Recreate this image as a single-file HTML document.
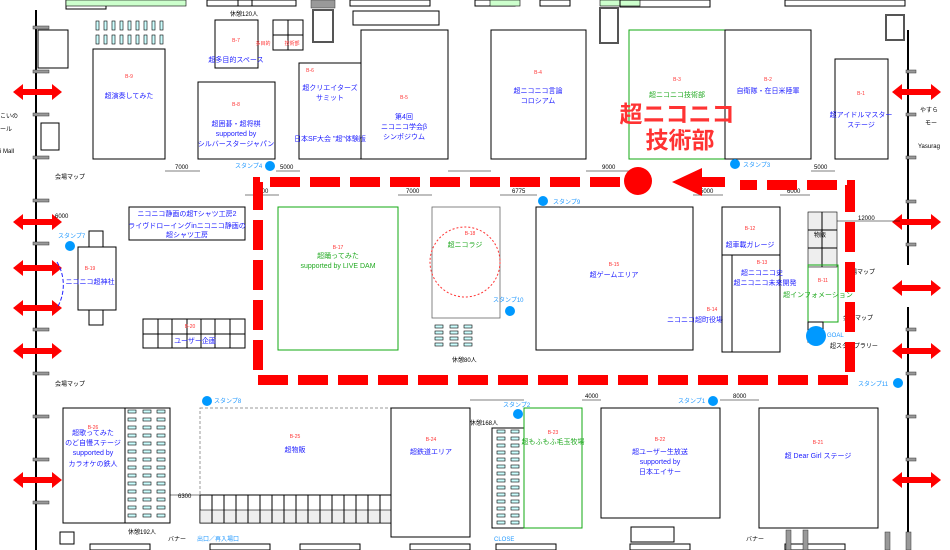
<!DOCTYPE html>
<html><head><meta charset="utf-8"><style>
body{margin:0;background:#fff}
svg{display:block;font-family:"Liberation Sans","Noto Sans CJK JP",sans-serif}
.b{fill:none;stroke:#000;stroke-width:1}
.g{fill:none;stroke:#1a1;stroke-width:1}
.t{fill:#22f;font-size:7px;text-anchor:middle}
.tg{fill:#2a2;font-size:7px;text-anchor:middle}
.r{fill:#f33;font-size:5px;text-anchor:middle}
.n{fill:#000;font-size:4px;text-anchor:middle}
.s{fill:#29f;font-size:6px}
.k{fill:#000;font-size:6px}
.d{stroke:#f00;stroke-width:10;stroke-dasharray:30 10;fill:none}
.w{fill:#999;stroke:#333;stroke-width:.5}
.seat{fill:#cff;stroke:#000;stroke-width:.6}
</style></head><body>
<svg width="950" height="550" viewBox="0 0 950 550">
<defs>
<g id="da"><polygon points="0,0 10,-8 10,-3 39,-3 39,-8 49,0 39,8 39,3 10,3 10,8" fill="#f00"/></g>
<g id="se"><rect width="8" height="3" class="seat"/></g>
</defs>
<!-- top structures -->
<rect x="66" y="0" width="40" height="9" class="b"/>
<rect x="66" y="0" width="120" height="6" fill="#cfc" stroke="#000" stroke-width=".6"/>
<rect x="207" y="0" width="45" height="6" class="b"/>
<rect x="238" y="0" width="58" height="6" class="b"/>
<rect x="311" y="0" width="24" height="8" class="w"/>
<rect x="350" y="0" width="80" height="6" class="b"/>
<rect x="475" y="0" width="40" height="6" class="b"/>
<rect x="490" y="0" width="30" height="6" fill="#cfc" stroke="#000" stroke-width=".6"/>
<rect x="540" y="0" width="30" height="6" class="b"/>
<rect x="600" y="0" width="40" height="6" fill="#cfc" stroke="#000" stroke-width=".6"/>
<rect x="620" y="0" width="90" height="7" class="b"/>
<rect x="785" y="0" width="120" height="6" class="b"/>
<rect x="600" y="8" width="18" height="35" fill="#fff" stroke="#555" stroke-width="2"/>
<rect x="313" y="10" width="20" height="32" fill="#fff" stroke="#555" stroke-width="2"/>
<rect x="886" y="15" width="18" height="25" fill="#fff" stroke="#555" stroke-width="2"/>
<rect x="353" y="11" width="86" height="14" class="b"/>
<rect x="273" y="20" width="30" height="30" class="b"/>
<path d="M288 20V50M273 35H303" class="b"/>
<text x="230" y="16" class="k" font-size="7">休憩120人</text>
<g fill="#cff" stroke="#000" stroke-width=".6">
<rect x="96" y="21" width="3" height="9"/><rect x="104" y="21" width="3" height="9"/><rect x="112" y="21" width="3" height="9"/><rect x="120" y="21" width="3" height="9"/><rect x="128" y="21" width="3" height="9"/><rect x="136" y="21" width="3" height="9"/><rect x="144" y="21" width="3" height="9"/><rect x="152" y="21" width="3" height="9"/><rect x="160" y="21" width="3" height="9"/>
<rect x="96" y="35" width="3" height="9"/><rect x="104" y="35" width="3" height="9"/><rect x="112" y="35" width="3" height="9"/><rect x="120" y="35" width="3" height="9"/><rect x="128" y="35" width="3" height="9"/><rect x="136" y="35" width="3" height="9"/><rect x="144" y="35" width="3" height="9"/><rect x="152" y="35" width="3" height="9"/><rect x="160" y="35" width="3" height="9"/>
</g>
<!-- walls -->
<path d="M36 10V550M908 30V265M908 307V550" stroke="#000" stroke-width="2"/>
<rect x="38" y="30" width="30" height="38" class="b"/>
<rect x="41" y="123" width="18" height="27" class="b"/>
<g class="w"><rect x="33" y="26" width="16" height="3"/><rect x="33" y="70" width="16" height="3"/><rect x="33" y="113" width="16" height="3"/><rect x="33" y="156" width="16" height="3"/><rect x="33" y="199" width="16" height="3"/><rect x="33" y="242" width="16" height="3"/><rect x="33" y="328" width="16" height="3"/><rect x="33" y="372" width="16" height="3"/><rect x="33" y="415" width="16" height="3"/><rect x="33" y="458" width="16" height="3"/><rect x="33" y="501" width="16" height="3"/>
<rect x="906" y="70" width="10" height="3"/><rect x="906" y="113" width="10" height="3"/><rect x="906" y="156" width="10" height="3"/><rect x="906" y="200" width="10" height="3"/><rect x="906" y="243" width="10" height="3"/><rect x="906" y="328" width="10" height="3"/><rect x="906" y="372" width="10" height="3"/><rect x="906" y="415" width="10" height="3"/><rect x="906" y="458" width="10" height="3"/></g>
<text x="0" y="118" class="k" font-size="8">こいの</text>
<text x="0" y="131" class="k" font-size="8">ール</text>
<text x="0" y="153" class="k" font-size="8">i Mall</text>
<text x="920" y="112" class="k" font-size="8">やすら</text>
<text x="925" y="125" class="k" font-size="8">モー</text>
<text x="918" y="148" class="k" font-size="8">Yasurag</text>
<text x="55" y="179" class="k">会場マップ</text>
<text x="55" y="386" class="k">会場マップ</text>
<!-- red side arrows -->
<use href="#da" x="13" y="92"/><use href="#da" x="13" y="222"/><use href="#da" x="13" y="268"/><use href="#da" x="13" y="308"/><use href="#da" x="13" y="351"/><use href="#da" x="13" y="480"/>
<use href="#da" x="892" y="92"/><use href="#da" x="892" y="222"/><use href="#da" x="892" y="288"/><use href="#da" x="892" y="351"/><use href="#da" x="892" y="480"/>
<!-- top booths -->
<rect x="93" y="49" width="72" height="110" class="b"/><text x="129" y="78" class="r">B-9</text><text x="129" y="98" class="t">超演奏してみた</text>
<rect x="215" y="20" width="43" height="48" class="b"/><text x="236" y="42" class="r">B-7</text><text x="236" y="62" class="t">超多目的スペース</text>
<text x="263" y="45" class="r" font-size="6" text-anchor="start">多目的</text><text x="292" y="45" class="r" font-size="6" text-anchor="start">技術部</text>
<rect x="198" y="82" width="77" height="77" class="b"/><text x="236" y="106" class="r">B-8</text><text x="236" y="126" class="t">超囲碁・超将棋</text><text x="236" y="136" class="t">supported by</text><text x="236" y="146" class="t">シルバースタージャパン</text>
<rect x="299" y="63" width="62" height="96" class="b"/><text x="310" y="72" class="r">B-6</text><text x="330" y="90" class="t">超クリエイターズ</text><text x="330" y="100" class="t">サミット</text><text x="330" y="141" class="t">日本SF大会 "超"体験版</text>
<rect x="361" y="30" width="87" height="129" class="b"/><text x="404" y="99" class="r">B-5</text><text x="404" y="119" class="t">第4回</text><text x="404" y="129" class="t">ニコニコ学会β</text><text x="404" y="139" class="t">シンポジウム</text>
<rect x="491" y="30" width="95" height="129" class="b"/><text x="538" y="74" class="r">B-4</text><text x="538" y="93" class="t">超ニコニコ言論</text><text x="538" y="103" class="t">コロシアム</text>
<rect x="629" y="30" width="96" height="129" class="g"/><text x="677" y="81" class="r">B-3</text><text x="677" y="97" class="tg">超ニコニコ技術部</text>
<rect x="725" y="30" width="86" height="129" class="b"/><text x="768" y="81" class="r">B-2</text><text x="768" y="93" class="t">自衛隊・在日米陸軍</text>
<rect x="835" y="59" width="53" height="100" class="b"/><text x="861" y="95" class="r">B-1</text><text x="861" y="117" class="t">超アイドルマスター</text><text x="861" y="127" class="t">ステージ</text>
<text x="677" y="122" fill="#f33" font-size="23" font-weight="bold" text-anchor="middle">超ニコニコ</text>
<text x="680" y="148" fill="#f33" font-size="23" font-weight="bold" text-anchor="middle">技術部</text>
<!-- dims -->
<g stroke="#000" stroke-width=".6"><path d="M165 171H200M276 171H300M448 171H491M586 171H629M811 171H835M245 195H279M398 195H432M500 195H537M693 195H723M780 195H810M810 221H900M170 495H200M470 400H524M582 400H601M720 400H759"/></g>
<text x="175" y="169" class="k" font-size="5">7000</text><text x="280" y="169" class="k" font-size="5">5000</text><text x="602" y="169" class="k" font-size="5">9000</text><text x="814" y="169" class="k" font-size="5">5000</text>
<text x="255" y="193" class="k" font-size="5">7200</text><text x="406" y="193" class="k" font-size="5">7000</text><text x="512" y="193" class="k" font-size="5">6775</text><text x="700" y="193" class="k" font-size="5">5000</text><text x="787" y="193" class="k" font-size="5">6000</text><text x="858" y="220" class="k" font-size="5">12000</text>
<text x="178" y="498" class="k" font-size="5">6300</text><text x="585" y="398" class="k" font-size="5">4000</text><text x="733" y="398" class="k" font-size="5">8000</text><text x="55" y="218" class="k" font-size="5">6000</text>
<!-- middle -->
<rect x="129" y="207" width="116" height="33" class="b"/><text x="187" y="216" class="t">ニコニコ静画の超Tシャツ工房2</text><text x="187" y="228" class="t">ライヴドローイングinニコニコ静画の</text><text x="187" y="237" class="t">超シャツ工房</text>
<rect x="78" y="247" width="38" height="63" class="b"/><rect x="89" y="231" width="14" height="16" class="b"/><rect x="89" y="310" width="14" height="15" class="b"/>
<path d="M57 262A45 45 0 0 1 57 308" stroke="#22f" stroke-dasharray="4 2" fill="none"/>
<text x="90" y="270" class="r">B-19</text><text x="90" y="284" class="t">ニコニコ超神社</text>
<rect x="143" y="319" width="102" height="29" class="b"/><path d="M143 334H245M158 319V348M172 319V348M187 319V348M201 319V348M215 319V348M230 319V348" class="b"/>
<text x="190" y="328" class="r">B-20</text><text x="195" y="343" class="t">ユーザー企画</text>
<rect x="278" y="207" width="120" height="143" class="g"/><text x="338" y="249" class="r">B-17</text><text x="338" y="258" class="tg">超踊ってみた</text><text x="338" y="268" class="tg">supported by LIVE DAM</text>
<rect x="432" y="207" width="68" height="111" fill="none" stroke="#666" stroke-width=".8"/>
<circle cx="465" cy="262" r="35" fill="none" stroke="#f33" stroke-dasharray="2 2"/>
<text x="470" y="235" class="r">B-18</text><text x="465" y="247" class="tg">超ニコラジ</text>
<g><use href="#se" x="435" y="325"/><use href="#se" x="450" y="325"/><use href="#se" x="464" y="325"/><use href="#se" x="435" y="331"/><use href="#se" x="450" y="331"/><use href="#se" x="464" y="331"/><use href="#se" x="435" y="337"/><use href="#se" x="450" y="337"/><use href="#se" x="464" y="337"/><use href="#se" x="435" y="343"/><use href="#se" x="450" y="343"/><use href="#se" x="464" y="343"/></g>
<text x="452" y="362" class="k">休憩80人</text>
<rect x="536" y="207" width="157" height="143" class="b"/><text x="614" y="266" class="r">B-15</text><text x="614" y="277" class="t">超ゲームエリア</text>
<text x="712" y="311" class="r">B-14</text><text x="695" y="322" class="t" text-anchor="start">ニコニコ超町役場</text>
<rect x="722" y="207" width="58" height="145" class="b"/><path d="M722 255H780M732 255V352" class="b"/>
<text x="750" y="230" class="r">B-12</text><text x="750" y="247" class="t">超車載ガレージ</text>
<text x="762" y="264" class="r">B-13</text><text x="762" y="275" class="t">超ニコニコ史</text><text x="765" y="285" class="t">超ニコニコ未来開発</text>
<rect x="808" y="212" width="29" height="55" fill="#eee" stroke="#000" stroke-width=".6"/><path d="M808 230H837M808 248H837M822 212V267" class="b"/>
<text x="814" y="237" class="k" font-size="5">物販</text>
<rect x="808" y="265" width="30" height="57" class="g"/><text x="823" y="282" class="r">B-11</text><text x="818" y="297" class="tg">超インフォメーション</text>
<rect x="808" y="322" width="15" height="20" class="b"/>
<text x="845" y="274" class="k">会場マップ</text><text x="843" y="320" class="k">会場マップ</text>
<text x="827" y="337" class="s" font-size="8">GOAL</text><text x="830" y="348" class="k">超スタンプラリー</text>
<!-- stamps -->
<g fill="#09f"><circle cx="270" cy="166" r="5"/><circle cx="735" cy="164" r="5"/><circle cx="543" cy="201" r="5"/><circle cx="70" cy="246" r="5"/><circle cx="510" cy="311" r="5"/><circle cx="816" cy="336" r="10"/><circle cx="898" cy="383" r="5"/><circle cx="207" cy="401" r="5"/><circle cx="518" cy="414" r="5"/><circle cx="713" cy="401" r="5"/></g>
<text x="235" y="168" class="s">スタンプ4</text><text x="743" y="167" class="s">スタンプ3</text><text x="553" y="204" class="s">スタンプ9</text><text x="58" y="238" class="s">スタンプ7</text><text x="493" y="302" class="s">スタンプ10</text><text x="858" y="386" class="s">スタンプ11</text><text x="214" y="403" class="s">スタンプ8</text><text x="503" y="407" class="s">スタンプ2</text><text x="678" y="403" class="s">スタンプ1</text>
<!-- bottom -->
<rect x="63" y="408" width="107" height="115" class="b"/><path d="M125 408V523" class="b"/>
<g><use href="#se" x="128" y="410"/><use href="#se" x="143" y="410"/><use href="#se" x="157" y="410"/><use href="#se" x="128" y="418"/><use href="#se" x="143" y="418"/><use href="#se" x="157" y="418"/><use href="#se" x="128" y="426"/><use href="#se" x="143" y="426"/><use href="#se" x="157" y="426"/><use href="#se" x="128" y="434"/><use href="#se" x="143" y="434"/><use href="#se" x="157" y="434"/><use href="#se" x="128" y="442"/><use href="#se" x="143" y="442"/><use href="#se" x="157" y="442"/><use href="#se" x="128" y="450"/><use href="#se" x="143" y="450"/><use href="#se" x="157" y="450"/><use href="#se" x="128" y="458"/><use href="#se" x="143" y="458"/><use href="#se" x="157" y="458"/><use href="#se" x="128" y="466"/><use href="#se" x="143" y="466"/><use href="#se" x="157" y="466"/><use href="#se" x="128" y="474"/><use href="#se" x="143" y="474"/><use href="#se" x="157" y="474"/><use href="#se" x="128" y="482"/><use href="#se" x="143" y="482"/><use href="#se" x="157" y="482"/><use href="#se" x="128" y="490"/><use href="#se" x="143" y="490"/><use href="#se" x="157" y="490"/><use href="#se" x="128" y="498"/><use href="#se" x="143" y="498"/><use href="#se" x="157" y="498"/><use href="#se" x="128" y="506"/><use href="#se" x="143" y="506"/><use href="#se" x="157" y="506"/><use href="#se" x="128" y="514"/><use href="#se" x="143" y="514"/><use href="#se" x="157" y="514"/></g>
<text x="93" y="429" class="r">B-26</text><text x="93" y="435" class="t">超歌ってみた</text><text x="93" y="445" class="t">のど自慢ステージ</text><text x="93" y="455" class="t">supported by</text><text x="93" y="466" class="t">カラオケの鉄人</text>
<text x="128" y="534" class="k">休憩192人</text>
<rect x="200" y="408" width="191" height="87" fill="none" stroke="#999" stroke-dasharray="3 2"/>
<rect x="200" y="495" width="191" height="28" class="b"/><rect x="200" y="510" width="191" height="13" fill="#eee" stroke="#000" stroke-width=".6"/>
<path d="M212 495V523M224 495V523M236 495V523M248 495V523M260 495V523M272 495V523M284 495V523M296 495V523M308 495V523M320 495V523M332 495V523M344 495V523M356 495V523M368 495V523M380 495V523" class="b"/>
<text x="295" y="438" class="r">B-25</text><text x="295" y="452" class="t">超物販</text>
<rect x="391" y="408" width="79" height="129" class="b"/><text x="431" y="441" class="r">B-24</text><text x="431" y="454" class="t">超鉄道エリア</text>
<text x="470" y="425" class="k">休憩168人</text>
<rect x="492" y="428" width="32" height="100" class="b"/>
<g><use href="#se" x="497" y="430"/><use href="#se" x="511" y="430"/><use href="#se" x="497" y="437"/><use href="#se" x="511" y="437"/><use href="#se" x="497" y="444"/><use href="#se" x="511" y="444"/><use href="#se" x="497" y="451"/><use href="#se" x="511" y="451"/><use href="#se" x="497" y="458"/><use href="#se" x="511" y="458"/><use href="#se" x="497" y="465"/><use href="#se" x="511" y="465"/><use href="#se" x="497" y="472"/><use href="#se" x="511" y="472"/><use href="#se" x="497" y="479"/><use href="#se" x="511" y="479"/><use href="#se" x="497" y="486"/><use href="#se" x="511" y="486"/><use href="#se" x="497" y="493"/><use href="#se" x="511" y="493"/><use href="#se" x="497" y="500"/><use href="#se" x="511" y="500"/><use href="#se" x="497" y="507"/><use href="#se" x="511" y="507"/><use href="#se" x="497" y="514"/><use href="#se" x="511" y="514"/><use href="#se" x="497" y="521"/><use href="#se" x="511" y="521"/></g>
<rect x="524" y="408" width="58" height="120" class="g"/><text x="553" y="434" class="r">B-23</text><text x="553" y="444" class="tg">超もふもふ毛玉牧場</text>
<rect x="601" y="408" width="119" height="110" class="b"/><text x="660" y="441" class="r">B-22</text><text x="660" y="454" class="t">超ユーザー生放送</text><text x="660" y="464" class="t">supported by</text><text x="660" y="474" class="t">日本エイサー</text>
<rect x="759" y="408" width="119" height="120" class="b"/><text x="818" y="444" class="r">B-21</text><text x="818" y="458" class="t">超 Dear Girl ステージ</text>
<!-- bottom edge -->
<g class="b"><rect x="60" y="532" width="14" height="12"/><rect x="90" y="544" width="60" height="6"/><rect x="210" y="544" width="60" height="6"/><rect x="300" y="544" width="60" height="6"/><rect x="410" y="544" width="60" height="6"/><rect x="496" y="544" width="60" height="6"/><rect x="630" y="544" width="60" height="6"/><rect x="785" y="544" width="60" height="6"/><rect x="631" y="527" width="43" height="15"/></g>
<rect x="786" y="530" width="5" height="20" class="w"/><rect x="803" y="530" width="5" height="20" class="w"/>
<rect x="885" y="532" width="5" height="18" class="w"/><rect x="906" y="532" width="5" height="18" class="w"/>
<text x="168" y="541" class="k">バナー</text><text x="197" y="541" class="s">出口／再入場口</text><text x="494" y="541" class="s" fill="#88f">CLOSE</text><text x="746" y="541" class="k">バナー</text>
<!-- red dashed route -->
<path class="d" d="M620 182H258V380H850V185H740"/>
<circle cx="638" cy="181" r="14" fill="#f00"/>
<polygon points="672,182 702,168 702,177 725,177 725,187 702,187 702,196" fill="#f00"/>
</svg>
</body></html>
